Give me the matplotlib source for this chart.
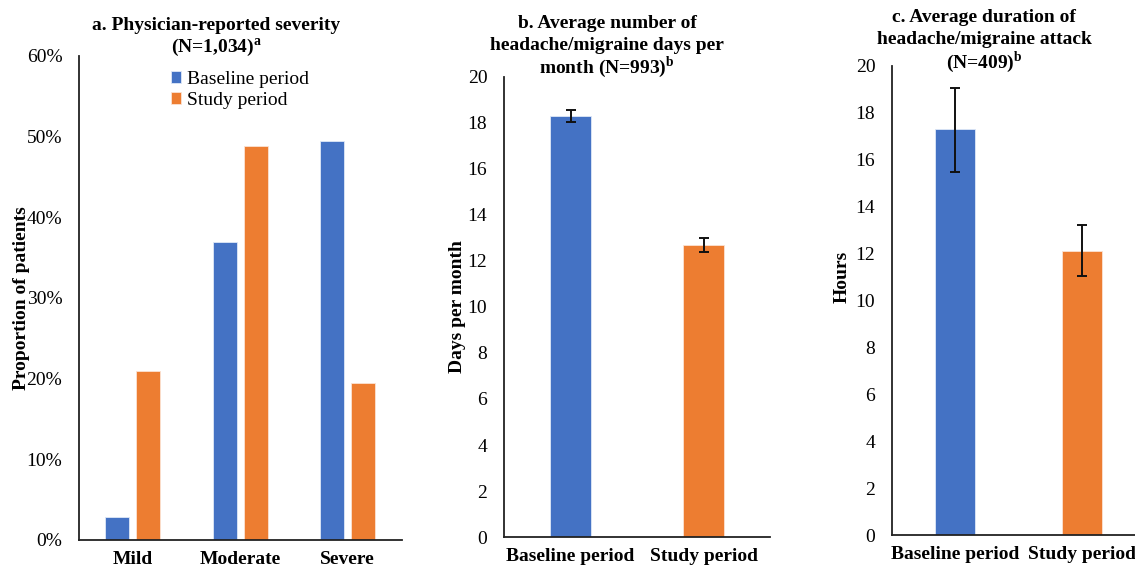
import matplotlib
matplotlib.use("Agg")
import matplotlib.pyplot as plt
import numpy as np

# panel a: physician-reported severity (share of patients)
severity = ["Mild", "Moderate", "Severe"]
sev_baseline = [2.8, 36.9, 49.5]
sev_study = [20.9, 48.8, 19.5]

# panel b: headache/migraine days per month
periods = ["Baseline period", "Study period"]
days = [18.3, 12.7]
days_err_lo = [0.27, 0.32]
days_err_hi = [0.27, 0.31]

# panel c: attack duration, hours
hours = [17.3, 12.1]
hours_err_lo = [1.8, 1.06]
hours_err_hi = [1.75, 1.11]

BLUE = "#4472C4"
ORANGE = "#ED7D31"
INK = "#000000"
FS = 14

plt.rcParams["font.family"] = ["Liberation Serif", "DejaVu Serif"]
plt.rcParams["mathtext.fontset"] = "custom"
plt.rcParams["mathtext.rm"] = "Liberation Serif"
plt.rcParams["mathtext.bf"] = "Liberation Serif:bold"

W, H = 1135, 569
fig = plt.figure(figsize=(W / 100, H / 100), dpi=100)


def px_axes(x0, x1, ytop, ybot):
    return fig.add_axes([x0 / W, 1 - ybot / H, (x1 - x0) / W, (ybot - ytop) / H])


def style(ax, ylabel, xlab_x, ylab_y=0.5):
    for side in ("top", "right"):
        ax.spines[side].set_visible(False)
    for side in ("left", "bottom"):
        ax.spines[side].set_linewidth(1.3)
        ax.spines[side].set_color("#222222")
    ax.tick_params(axis="both", length=0, labelsize=FS, colors=INK)
    ax.tick_params(axis="y", pad=12)
    ax.tick_params(axis="x", pad=8)
    for lab in ax.get_xticklabels():
        lab.set_fontweight("bold")
    ax.set_ylabel(ylabel, fontsize=FS, fontweight="bold")
    ax.yaxis.set_label_coords(xlab_x, ylab_y)


# ---- a ----
ax1 = px_axes(79, 401.5, 56, 540)
x = np.arange(len(severity))
w = 0.223
off = 0.144
ax1.bar(x - off, sev_baseline, w, color=BLUE, edgecolor="#dfe8f7", lw=0.6,
        label="Baseline period")
ax1.bar(x + off, sev_study, w, color=ORANGE, edgecolor="#fbe3d3", lw=0.6,
        label="Study period")
ax1.set_xlim(-0.5, 2.5)
ax1.set_ylim(0, 60)
ax1.set_yticks(range(0, 61, 10), [f"{v}%" for v in range(0, 61, 10)])
ax1.set_xticks(x, severity)
style(ax1, "Proportion of patients", -0.153)
ax1.legend(loc="upper left", bbox_to_anchor=(0.26, 0.985), frameon=False,
           fontsize=FS, handlelength=0.55, handleheight=0.55, handletextpad=0.3,
           labelspacing=0.2, borderaxespad=0)

# ---- b ----
ax2 = px_axes(504, 770, 77, 537)
xb = np.arange(len(periods))
ax2.bar(xb, days, 0.31, color=[BLUE, ORANGE], edgecolor=["#dfe8f7", "#fbe3d3"],
        lw=0.6, yerr=[days_err_lo, days_err_hi], capsize=3.5,
        error_kw=dict(elinewidth=1.4, capthick=1.4, ecolor="#111111"))
ax2.set_xlim(-0.5, 1.5)
ax2.set_ylim(0, 20)
ax2.set_yticks(range(0, 21, 2))
ax2.set_xticks(xb, periods)
style(ax2, "Days per month", -0.143)

# ---- c ----
ax3 = px_axes(892, 1145, 66, 535)
ax3.bar(xb, hours, 0.316, color=[BLUE, ORANGE], edgecolor=["#dfe8f7", "#fbe3d3"],
        lw=0.6, yerr=[hours_err_lo, hours_err_hi], capsize=3.5,
        error_kw=dict(elinewidth=1.4, capthick=1.4, ecolor="#111111"))
ax3.set_xlim(-0.5, 1.5)
ax3.set_ylim(0, 20)
ax3.set_yticks(range(0, 21, 2))
ax3.set_xticks(xb, periods)
style(ax3, "Hours", -0.162, 0.55)


# titles
def title(xc, ys, lines):
    for y, t in zip(ys, lines):
        fig.text(xc / W, 1 - y / H, t, ha="center", va="center", fontsize=FS,
                 fontweight="bold")


title(216, [25, 48], ["a. Physician-reported severity", r"(N=1,034)$^{\mathbf{a}}$"])
title(607, [23, 45, 67], ["b. Average number of", "headache/migraine days per",
                          r"month (N=993)$^{\mathbf{b}}$"])
title(984, [17, 40, 62], ["c. Average duration of", "headache/migraine attack",
                          r"(N=409)$^{\mathbf{b}}$"])

fig.savefig("out.png", dpi=100)
